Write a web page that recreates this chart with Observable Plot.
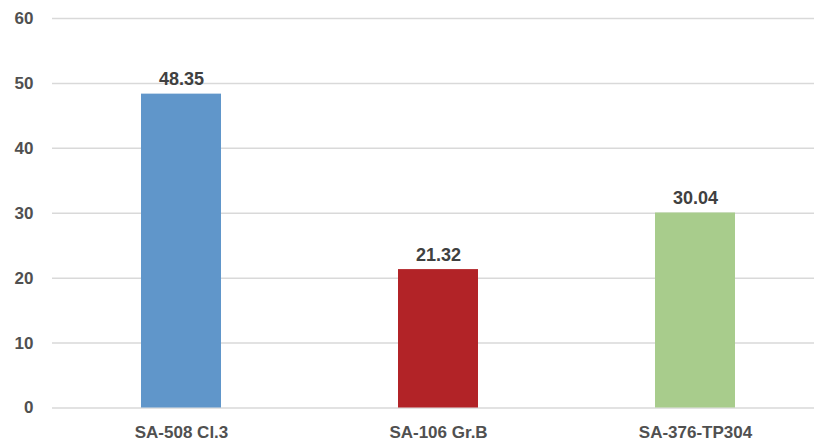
<!DOCTYPE html>
<html>
<head>
<meta charset="utf-8">
<script src="https://cdn.jsdelivr.net/npm/d3@7"></script>
<script src="https://cdn.jsdelivr.net/npm/@observablehq/plot@0.6"></script>
<style>
  html, body { margin: 0; padding: 0; background: #fff; }
  #chart svg { display: block; }
</style>
</head>
<body>
<div id="chart"></div>
<script>
const categories = ["SA-508 Cl.3", "SA-106 Gr.B", "SA-376-TP304"];
const values = [48.35, 21.32, 30.04];
const barColors = ["#6096CA", "#B22327", "#A8CC8C"];
const yTicks = [0, 10, 20, 30, 40, 50, 60];

const data = categories.map((c, i) => ({category: c, value: values[i], color: barColors[i]}));
const font = "'Liberation Sans', Arial, sans-serif";

const chart = Plot.plot({
  width: 814,
  height: 446,
  marginLeft: 52,
  marginRight: 0,
  marginTop: 18,
  marginBottom: 38.5,
  style: {fontFamily: font, background: "#fff"},
  x: {domain: categories, range: [51.75, 824.25], paddingInner: 0.69, paddingOuter: 0.345, label: null},
  y: {domain: [0, 60], label: null},
  marks: [
    Plot.gridY(yTicks, {stroke: "#D9D9D9", strokeOpacity: 1, strokeWidth: 1.5}),
    Plot.barY(data, {x: "category", y: "value", fill: "color"}),
    Plot.text(data, {x: "category", y: "value", text: d => d.value.toFixed(2), lineAnchor: "bottom", dy: -9,
      fill: "#404040", fontSize: 18, fontWeight: "bold"}),
    Plot.axisY({ticks: yTicks, tickSize: 0, tickPadding: 19, fontSize: 17, fontWeight: "bold", fill: "#505050", label: null}),
    Plot.axisX({tickSize: 0, tickPadding: 18, fontSize: 17, fontWeight: "bold", fill: "#505050", label: null})
  ]
});
document.getElementById("chart").append(chart);
</script>
</body>
</html>
